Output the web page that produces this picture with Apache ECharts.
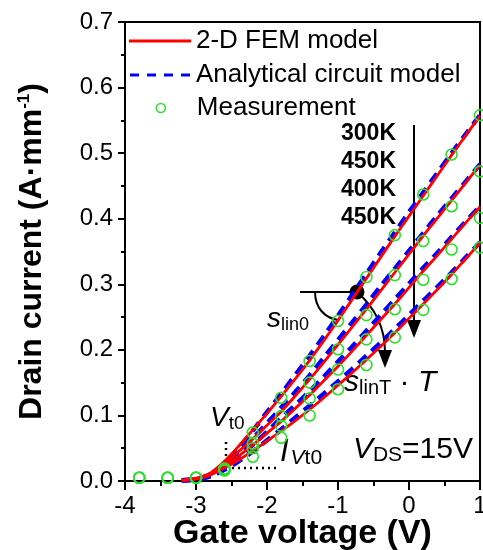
<!DOCTYPE html>
<html>
<head>
<meta charset="utf-8">
<script src="https://cdn.jsdelivr.net/npm/echarts@6/dist/echarts.min.js"></script>
<style>
  html, body { margin: 0; padding: 0; background: #fff; }
  #main { width: 483px; height: 550px; }
</style>
</head>
<body>
<div id="main"></div>
<script>
var chart = echarts.init(document.getElementById('main'));

// gate voltage of the measured points
var vgMeas = [-3.8, -3.4, -3.0, -2.6, -2.2, -1.8, -1.4, -1.0, -0.6, -0.2, 0.2, 0.6, 1.0];
// measured drain current, one list per temperature curve (top to bottom)
var meas1 = [0.005, 0.005, 0.005, 0.019, 0.074, 0.127, 0.183, 0.244, 0.311, 0.375, 0.437, 0.498, 0.558];
var meas2 = [0.005, 0.005, 0.005, 0.018, 0.057, 0.099, 0.150, 0.201, 0.253, 0.314, 0.366, 0.419, 0.472];
var meas3 = [0.005, 0.005, 0.005, 0.017, 0.050, 0.084, 0.126, 0.170, 0.216, 0.262, 0.307, 0.353, 0.401];
var meas4 = [0.005, 0.005, 0.005, 0.016, 0.037, 0.066, 0.100, 0.140, 0.177, 0.219, 0.261, 0.308, 0.356];

// gate voltage of the model curves
var vgModel = [-3.2, -3.0, -2.8, -2.6, -2.4, -2.2, -2.0, -1.8, -1.6, -1.4, -1.2, -1.0, -0.8, -0.6, -0.4, -0.2, 0, 0.2, 0.4, 0.6, 0.8, 1.0];
// 2-D FEM model
var fem1 = [0.001, 0.004, 0.012, 0.030, 0.053, 0.078, 0.103, 0.129, 0.156, 0.184, 0.214, 0.245, 0.277, 0.309, 0.341, 0.373, 0.404, 0.435, 0.466, 0.497, 0.527, 0.557];
var fem2 = [0.001, 0.004, 0.011, 0.026, 0.045, 0.064, 0.085, 0.106, 0.130, 0.155, 0.181, 0.208, 0.235, 0.262, 0.290, 0.318, 0.346, 0.374, 0.401, 0.428, 0.455, 0.482];
var fem3 = [0.001, 0.004, 0.010, 0.023, 0.038, 0.055, 0.073, 0.091, 0.111, 0.131, 0.153, 0.175, 0.198, 0.222, 0.246, 0.270, 0.295, 0.320, 0.344, 0.369, 0.394, 0.418];
var fem4 = [0.001, 0.003, 0.009, 0.020, 0.032, 0.046, 0.061, 0.076, 0.092, 0.109, 0.127, 0.146, 0.165, 0.185, 0.205, 0.226, 0.248, 0.270, 0.292, 0.315, 0.339, 0.363];
// analytical circuit model
var ana1 = [0.001, 0.003, 0.010, 0.026, 0.050, 0.077, 0.105, 0.133, 0.162, 0.191, 0.221, 0.252, 0.284, 0.316, 0.348, 0.379, 0.410, 0.440, 0.470, 0.500, 0.529, 0.558];
var ana2 = [0.001, 0.003, 0.009, 0.023, 0.043, 0.065, 0.088, 0.112, 0.136, 0.161, 0.188, 0.215, 0.242, 0.269, 0.297, 0.324, 0.351, 0.378, 0.405, 0.431, 0.457, 0.483];
var ana3 = [0.001, 0.003, 0.008, 0.020, 0.036, 0.055, 0.075, 0.096, 0.116, 0.137, 0.159, 0.182, 0.205, 0.229, 0.253, 0.277, 0.301, 0.325, 0.348, 0.372, 0.396, 0.419];
var ana4 = [0.001, 0.002, 0.007, 0.017, 0.030, 0.045, 0.062, 0.079, 0.097, 0.115, 0.133, 0.152, 0.171, 0.191, 0.211, 0.232, 0.253, 0.275, 0.296, 0.318, 0.341, 0.364];

var tempLabels = ['300K', '450K', '400K', '450K'];
var legendNames = ['2-D FEM model', 'Analytical circuit model', 'Measurement'];

var FONT = 'Liberation Sans';
var GREEN = '#2ee02e';

function pairs(xs, ys) {
    return xs.map(function (x, i) { return [x, ys[i]]; });
}

var series = [];
[ana1, ana2, ana3, ana4].forEach(function (d) {
    series.push({
        name: legendNames[1],
        type: 'line',
        data: pairs(vgModel, d),
        symbol: 'none',
        smooth: 0.3,
        lineStyle: { color: '#0000ff', width: 4.5, type: [11, 7] },
        itemStyle: { color: '#0000ff' },
        z: 2
    });
});
[fem1, fem2, fem3, fem4].forEach(function (d) {
    series.push({
        name: legendNames[0],
        type: 'line',
        data: pairs(vgModel, d),
        symbol: 'none',
        smooth: 0.3,
        lineStyle: { color: '#ff0000', width: 2.8 },
        itemStyle: { color: '#ff0000' },
        z: 3
    });
});
[meas1, meas2, meas3, meas4].forEach(function (d) {
    series.push({
        name: legendNames[2],
        type: 'scatter',
        data: pairs(vgMeas, d),
        symbol: 'circle',
        symbolSize: 11,
        clip: false,
        itemStyle: { color: 'rgba(0,0,0,0)', borderColor: GREEN, borderWidth: 1.6, opacity: 1 },
        z: 4
    });
});

var tempText = tempLabels.map(function (t, i) {
    return {
        type: 'text',
        x: 396,
        y: 122 + i * 28,
        style: { text: t, font: 'bold 23px "Liberation Sans"', fill: '#000', align: 'right' }
    };
});

function sub(main, subText, x, y, mainSize, subSize) {
    return {
        type: 'text', x: x, y: y,
        style: {
            text: '{a|' + main + '}{b|' + subText + '}',
            rich: {
                a: { fontFamily: FONT, fontSize: mainSize, fontStyle: 'italic', fill: '#000' },
                b: { fontFamily: FONT, fontSize: subSize, fill: '#000', padding: [11, 0, 0, 0] }
            }
        }
    };
}

var legendText = { fontFamily: FONT, fontSize: 26, color: '#000', lineHeight: 25 };

var option = {
    animation: false,
    backgroundColor: '#fff',
    grid: {
        left: 125, right: 3, top: 22, bottom: 69,
        outerBoundsMode: 'none',
        containLabel: false,
        show: true, borderColor: '#000', borderWidth: 2
    },
    legend: [{
        data: [
            { name: legendNames[0], icon: 'path://M0,0H62V3H0Z' },
            { name: legendNames[1], icon: 'path://M0,0H9V3H0Z M17,0H26V3H17Z M34,0H43V3H34Z M51,0H60V3H51Z' }
        ],
        orient: 'vertical',
        left: 129,
        top: 28,
        padding: 0,
        itemWidth: 62,
        itemHeight: 3,
        itemGap: 8,
        textStyle: legendText
    }, {
        data: [
            {
                name: legendNames[2],
                icon: 'path://M0,4.5M62,4.5M35.5,4.5A4.5,4.5,0,1,1,26.5,4.5A4.5,4.5,0,1,1,35.5,4.5Z',
                itemStyle: { color: 'rgba(0,0,0,0)', borderColor: GREEN, borderWidth: 1.6 }
            }
        ],
        left: 129,
        top: 95,
        padding: 0,
        itemWidth: 62,
        itemHeight: 9,
        textStyle: legendText
    }],
    xAxis: {
        type: 'value',
        min: -4, max: 1, interval: 1,
        name: 'Gate voltage (V)',
        nameLocation: 'middle',
        nameGap: 36,
        nameMoveOverlap: false,
        nameTextStyle: { fontFamily: FONT, fontSize: 34, fontWeight: 'bold', color: '#000' },
        axisLine: { onZero: false, lineStyle: { color: '#000', width: 2 } },
        axisTick: { inside: false, length: 9, lineStyle: { color: '#000', width: 2 } },
        minorTick: { show: true, splitNumber: 2, length: 5, lineStyle: { color: '#000', width: 2 } },
        axisLabel: { fontFamily: FONT, fontSize: 24, color: '#000', margin: 13 },
        splitLine: { show: false }
    },
    yAxis: {
        type: 'value',
        min: 0, max: 0.7, interval: 0.1,
        name: '{t|Drain current (A·mm}{s|-1}{t|)}',
        nameLocation: 'middle',
        nameGap: 76,
        nameRotate: 90,
        nameMoveOverlap: false,
        nameTextStyle: {
            rich: {
                t: { fontFamily: FONT, fontSize: 32, fontWeight: 'bold', color: '#000' },
                s: { fontFamily: FONT, fontSize: 17, fontWeight: 'bold', color: '#000', verticalAlign: 'top', padding: [0, 0, 16, 0] }
            }
        },
        axisLine: { onZero: false, lineStyle: { color: '#000', width: 2 } },
        axisTick: { inside: false, length: 7, lineStyle: { color: '#000', width: 2 } },
        minorTick: { show: true, splitNumber: 2, length: 4, lineStyle: { color: '#000', width: 2 } },
        axisLabel: {
            fontFamily: FONT, fontSize: 24, color: '#000', margin: 12,
            formatter: function (v) { return v.toFixed(1); }
        },
        splitLine: { show: false }
    },
    graphic: tempText.concat([
        // temperature arrow
        { type: 'line', shape: { x1: 414, y1: 125, x2: 414, y2: 322 }, style: { stroke: '#000', lineWidth: 2 } },
        { type: 'polygon', shape: { points: [[407, 320], [421, 320], [414, 338]] }, style: { fill: '#000' } },
        // slope marker
        { type: 'line', shape: { x1: 300, y1: 292, x2: 357, y2: 292 }, style: { stroke: '#000', lineWidth: 2 } },
        { type: 'bezierCurve', shape: { x1: 315, y1: 292, cpx1: 315, cpy1: 308, cpx2: 325, cpy2: 318, x2: 338, y2: 320 }, style: { fill: null, stroke: '#000', lineWidth: 2 } },
        { type: 'bezierCurve', shape: { x1: 357, y1: 292, cpx1: 372, cpy1: 305, cpx2: 385, cpy2: 325, x2: 385, y2: 352 }, style: { fill: null, stroke: '#000', lineWidth: 2 } },
        { type: 'polygon', shape: { points: [[378, 350], [392, 350], [385, 368]] }, style: { fill: '#000' } },
        { type: 'circle', shape: { cx: 357, cy: 292, r: 7.5 }, style: { fill: '#000' } },
        sub('s', 'lin0', 267, 305, 28, 18),
        {
            type: 'text', x: 344, y: 367,
            style: {
                text: '{a|s}{b|linT}{c| · }{a|T}',
                rich: {
                    a: { fontFamily: FONT, fontSize: 30, fontStyle: 'italic', fill: '#000' },
                    b: { fontFamily: FONT, fontSize: 20, fill: '#000', padding: [11, 0, 0, 0] },
                    c: { fontFamily: FONT, fontSize: 30, fill: '#000' }
                }
            }
        },
        // threshold markers
        { type: 'line', shape: { x1: 226, y1: 442, x2: 226, y2: 464 }, style: { stroke: '#000', lineWidth: 2.5, lineDash: [2, 4] } },
        { type: 'line', shape: { x1: 232, y1: 468, x2: 280, y2: 468 }, style: { stroke: '#000', lineWidth: 2.5, lineDash: [2, 4] } },
        sub('V', 't0', 210, 403, 28, 19),
        {
            type: 'text', x: 280, y: 436,
            style: {
                text: '{a|I}{c|V}{b|t0}',
                rich: {
                    a: { fontFamily: FONT, fontSize: 31, fontStyle: 'italic', fill: '#000' },
                    c: { fontFamily: FONT, fontSize: 21, fontStyle: 'italic', fill: '#000', padding: [12, 0, 0, 2] },
                    b: { fontFamily: FONT, fontSize: 21, fill: '#000', padding: [12, 0, 0, 0] }
                }
            }
        },
        {
            type: 'text', x: 473, y: 433,
            style: {
                text: '{a|V}{b|DS}{c|=15V}',
                align: 'right',
                rich: {
                    a: { fontFamily: FONT, fontSize: 30, fontStyle: 'italic', fill: '#000' },
                    b: { fontFamily: FONT, fontSize: 21, fill: '#000', padding: [12, 0, 0, 0] },
                    c: { fontFamily: FONT, fontSize: 30, fill: '#000' }
                }
            }
        }
    ]),
    series: series
};

chart.setOption(option);
</script>
</body>
</html>
